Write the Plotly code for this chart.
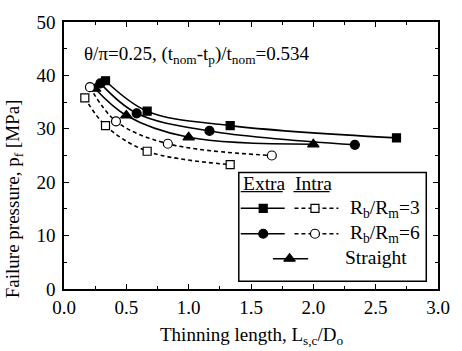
import plotly.graph_objects as go

# Data
ext3_x = [0.333, 0.667, 1.333, 2.667]
ext3_y = [39.0, 33.3, 30.6, 28.3]
ext6_x = [0.292, 0.583, 1.167, 2.333]
ext6_y = [38.5, 32.9, 29.6, 27.0]
str_x = [0.25, 0.5, 1.0, 2.0]
str_y = [37.5, 32.5, 28.4, 27.1]
int3_x = [0.167, 0.333, 0.667, 1.333]
int3_y = [35.8, 30.6, 25.8, 23.3]
int6_x = [0.208, 0.417, 0.833, 1.667]
int6_y = [37.8, 31.4, 27.2, 25.0]

FONT = "Liberation Serif, Times New Roman, Times, serif"
W, H = 462, 351
L, R, T, B = 64, 15, 16, 62

fig = go.Figure()

def add(x, y, symbol, dash, filled, size):
    fig.add_trace(go.Scatter(
        x=x, y=y, mode="lines+markers",
        line=dict(color="black", width=1.6, dash=dash, shape="spline", smoothing=1.0),
        marker=dict(symbol=symbol, size=size,
                    color="black" if filled else "white",
                    line=dict(color="black", width=1.2)),
        showlegend=False, cliponaxis=False))

add(ext3_x, ext3_y, "square", "solid", True, 8)
add(ext6_x, ext6_y, "circle", "solid", True, 9)
add(str_x, str_y, "triangle-up", "solid", True, 10)
add(int3_x, int3_y, "square", "4px,3px", False, 8)
add(int6_x, int6_y, "circle", "4px,3px", False, 9)

# Legend drawn in pixel coordinates on an overlay axis
PX0, PX1 = L, W - R
PY0, PY1 = H - B, T

def leg_sample(x0, x1, xm, y, symbol, dash, filled, size):
    fig.add_trace(go.Scatter(
        x=[x0, x1], y=[y, y], mode="lines", xaxis="x2", yaxis="y2",
        line=dict(color="black", width=1.6, dash=dash), showlegend=False))
    fig.add_trace(go.Scatter(
        x=[xm], y=[y], mode="markers", xaxis="x2", yaxis="y2",
        marker=dict(symbol=symbol, size=size, color="black" if filled else "white",
                    line=dict(color="black", width=1.2)), showlegend=False))

leg_sample(245, 290, 268, 206.5, "square", "solid", True, 8)
leg_sample(300, 345, 321, 206.5, "square", "4px,3px", False, 8)
leg_sample(245, 290, 268, 232.5, "circle", "solid", True, 9)
leg_sample(300, 345, 321, 232.5, "circle", "4px,3px", False, 9)
leg_sample(278, 314, 295, 258, "triangle-up", "solid", True, 10)

shapes = [
    dict(type="rect", xref="x2", yref="y2", x0=243, x1=435, y0=170, y1=281,
         line=dict(color="black", width=1.5), fillcolor="white", layer="below"),
    dict(type="line", xref="x2", yref="y2", x0=245, x1=288, y0=189.5, y1=189.5,
         line=dict(color="black", width=1.2)),
    dict(type="line", xref="x2", yref="y2", x0=299, x1=336, y0=189.5, y1=189.5,
         line=dict(color="black", width=1.2)),
]

LF = dict(family=FONT, size=19.5, color="black")
ann = [
    dict(x=245, y=181, xref="x2", yref="y2", text="Extra", showarrow=False,
         xanchor="left", yanchor="middle", font=LF),
    dict(x=299, y=181, xref="x2", yref="y2", text="Intra", showarrow=False,
         xanchor="left", yanchor="middle", font=LF),
    dict(x=355, y=207, xref="x2", yref="y2", text="R<sub>b</sub>/R<sub>m</sub>=3", showarrow=False,
         xanchor="left", yanchor="middle", font=LF),
    dict(x=355, y=233, xref="x2", yref="y2", text="R<sub>b</sub>/R<sub>m</sub>=6", showarrow=False,
         xanchor="left", yanchor="middle", font=LF),
    dict(x=350, y=257, xref="x2", yref="y2", text="Straight", showarrow=False,
         xanchor="left", yanchor="middle", font=LF),
    dict(x=82, y=50, xref="x2", yref="y2",
         text="θ/π=0.25, (t<sub>nom</sub>-t<sub>p</sub>)/t<sub>nom</sub>=0.534", showarrow=False,
         xanchor="left", yanchor="middle", font=dict(family=FONT, size=19, color="black")),
    dict(x=(13 - L) / (W - L - R), y=(H - B - 197) / (H - B - T), xref="paper", yref="paper",
         text="Failure pressure, p<sub>f</sub> [MPa]", textangle=-90, showarrow=False,
         xanchor="center", yanchor="middle", font=dict(family=FONT, size=19, color="black")),
    dict(x=0.5, y=-(337 - (H - B)) / (H - B - T), xref="paper", yref="paper",
         text="Thinning length, L<sub>s,c</sub>/D<sub>o</sub>", showarrow=False,
         xanchor="center", yanchor="middle", font=dict(family=FONT, size=19, color="black")),
]

axis_common = dict(showgrid=False, zeroline=False, showline=True, linecolor="black",
                   linewidth=1.5, mirror="ticks", ticks="inside", ticklen=5,
                   tickwidth=1.2, tickcolor="black",
                   tickfont=dict(family=FONT, size=19, color="black"))

fig.update_layout(
    width=W, height=H, margin=dict(l=L, r=R, t=T, b=B),
    plot_bgcolor="white", paper_bgcolor="white",
    font=dict(family=FONT, color="black"),
    xaxis=dict(range=[0, 3], dtick=0.5, tickformat=".1f",
               minor=dict(dtick=0.25, ticks="inside", ticklen=3, tickcolor="black"),
               **axis_common),
    yaxis=dict(range=[0, 50], dtick=10, ticklabelstandoff=3,
               minor=dict(dtick=5, ticks="inside", ticklen=3, tickcolor="black"),
               **axis_common),
    xaxis2=dict(range=[PX0, PX1], overlaying="x", visible=False, fixedrange=True),
    yaxis2=dict(range=[PY0, PY1], overlaying="y", visible=False, fixedrange=True),
    shapes=shapes, annotations=ann,
)

fig.write_html("out.html")
